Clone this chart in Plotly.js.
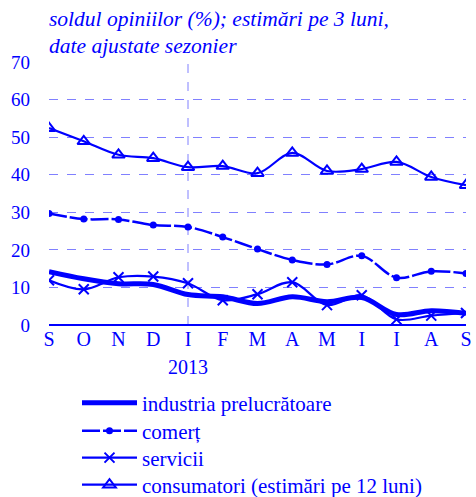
<!DOCTYPE html>
<html><head><meta charset="utf-8">
<script src="https://cdn.plot.ly/plotly-3.0.1.min.js"></script>
<style>html,body{margin:0;padding:0;background:#fff}#c{width:476px;height:497px}</style>
</head><body><div id="c"></div>
<script>
const months = ["S","O","N","D","I","F","M","A","M","I","I","A","S"];
const yearLabel = "2013";
const yearStartIndex = 4;
const industria = [14.2, 12.3, 11.0, 10.8, 8.1, 7.5, 5.7, 7.5, 6.2, 7.3, 2.8, 3.8, 3.1];
const comert = [29.7, 28.2, 28.1, 26.6, 26.1, 23.4, 20.2, 17.3, 16.1, 18.4, 12.6, 14.3, 13.7];
const servicii = [11.9, 9.5, 12.7, 12.9, 11.1, 6.6, 8.2, 11.4, 5.3, 7.9, 1.5, 2.5, 3.2];
const consumatori = [52.4, 48.9, 45.3, 44.4, 42.0, 42.3, 40.4, 45.8, 41.0, 41.5, 43.4, 39.4, 37.2];
const names = ["industria prelucrătoare","comerț","servicii","consumatori (estimări pe 12 luni)"];
const titleLines = ["soldul opiniilor (%); estimări pe 3 luni,", "date ajustate sezonier"];

const blue = "#0000ff";
const xs = months.map((m,i)=>i);
const font = "'Liberation Serif', 'Times New Roman', serif";

const traces = [
  {x: xs, y: industria, name: names[0], mode: "lines", legend: "legend",
   line: {color: blue, width: 5, shape: "spline", smoothing: 1}},
  {x: xs, y: comert, name: names[1], mode: "lines+markers", legend: "legend2",
   line: {color: blue, width: 2.5, shape: "spline", smoothing: 1, dash: "18px,3px"},
   marker: {symbol: "circle", size: 7, color: blue}},
  {x: xs, y: servicii, name: names[2], mode: "lines+markers", legend: "legend3",
   line: {color: blue, width: 2.2, shape: "spline", smoothing: 1},
   marker: {symbol: "x-thin-open", size: 10, color: blue, line: {color: blue, width: 2}}},
  {x: xs, y: consumatori, name: names[3], mode: "lines+markers", legend: "legend4",
   line: {color: blue, width: 2.2, shape: "spline", smoothing: 1},
   marker: {symbol: "triangle-up-open", size: 11, color: blue, line: {color: blue, width: 2}}}
];

const plotBottomPx = 325, plotHeightPx = 263;
const legendRowsPx = [403, 431, 458, 485];
function legendAt(py) {
  return {xref: "paper", yref: "paper", x: 28/417, y: (plotBottomPx - py)/plotHeightPx,
          xanchor: "left", yanchor: "middle", orientation: "v",
          font: {family: font, size: 21, color: blue}, itemwidth: 55,
          bgcolor: "rgba(0,0,0,0)", borderwidth: 0};
}

const layout = {
  width: 476, height: 497,
  margin: {l: 49, r: 10, t: 62, b: 172, autoexpand: false},
  paper_bgcolor: "#fff", plot_bgcolor: "#fff",
  font: {family: font, color: blue, size: 19},
  showlegend: true,
  xaxis: {range: [0, months.length-1], tickmode: "array", tickvals: xs, ticktext: months,
          showgrid: false, zeroline: false, showline: false, ticks: "", automargin: false,
          tickfont: {family: font, size: 20, color: blue}, fixedrange: true},
  yaxis: {range: [0, 70], dtick: 10, showgrid: true, gridcolor: "#8080ff", griddash: "dash",
          gridwidth: 1, zeroline: true, zerolinecolor: blue, zerolinewidth: 1.5,
          showline: false, ticks: "", ticklabelstandoff: 18, automargin: false,
          tickfont: {family: font, size: 19, color: blue}, fixedrange: true},
  shapes: [{type: "line", xref: "x", yref: "paper", x0: yearStartIndex, x1: yearStartIndex, y0: 0, y1: 1,
            line: {color: "#8080ff", width: 1, dash: "dash"}, layer: "below"}],
  annotations: [
    {text: yearLabel, xref: "x", yref: "paper", x: yearStartIndex, y: 0,
     yshift: -29, yanchor: "top", showarrow: false,
     font: {family: font, size: 20, color: blue}},
    {text: titleLines[0], xref: "paper", yref: "paper", x: 0, y: 1,
     xanchor: "left", yanchor: "bottom", yshift: 29, xshift: -2, showarrow: false,
     font: {family: font, size: 21.5, color: blue, style: "italic"}},
    {text: titleLines[1], xref: "paper", yref: "paper", x: 0, y: 1,
     xanchor: "left", yanchor: "bottom", yshift: 2, xshift: -2, showarrow: false,
     font: {family: font, size: 21.5, color: blue, style: "italic"}}
  ],
  legend: legendAt(legendRowsPx[0]),
  legend2: legendAt(legendRowsPx[1]),
  legend3: legendAt(legendRowsPx[2]),
  legend4: legendAt(legendRowsPx[3])
};
Plotly.newPlot("c", traces, layout, {displayModeBar: false, staticPlot: true});
</script></body></html>
